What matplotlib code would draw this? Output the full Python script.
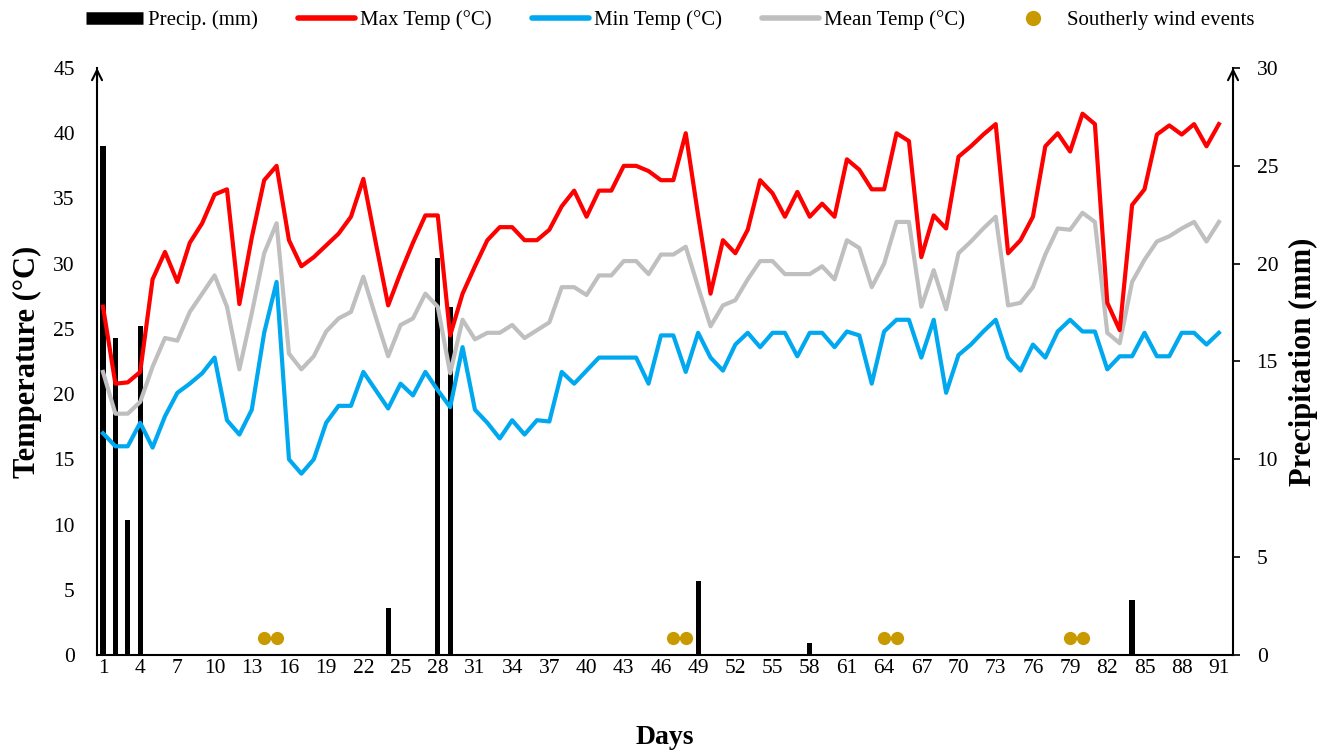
import numpy as np
import matplotlib.pyplot as plt
from matplotlib.lines import Line2D

plt.rcParams['font.family'] = ['Liberation Serif', 'DejaVu Serif']

# daily series, days 1..91
days = np.arange(1, 92)

max_temp = [26.7, 20.8, 20.9, 21.7, 28.8, 30.9, 28.6, 31.6, 33.1, 35.3,
            35.7, 26.9, 32.0, 36.4, 37.5, 31.8, 29.8, 30.5, 31.4, 32.3,
            33.6, 36.5, 31.6, 26.8, 29.3, 31.6, 33.7, 33.7, 24.5, 27.7,
            29.8, 31.8, 32.8, 32.8, 31.8, 31.8, 32.6, 34.4, 35.6, 33.6,
            35.6, 35.6, 37.5, 37.5, 37.1, 36.4, 36.4, 40.0, 33.7, 27.7,
            31.8, 30.8, 32.6, 36.4, 35.4, 33.6, 35.5, 33.6, 34.6, 33.6,
            38.0, 37.2, 35.7, 35.7, 40.0, 39.4, 30.5, 33.7, 32.7, 38.2,
            39.0, 39.9, 40.7, 30.8, 31.8, 33.6, 39.0, 40.0, 38.6, 41.5,
            40.7, 27.0, 24.9, 34.5, 35.7, 39.9, 40.6, 39.9, 40.7, 39.0,
            40.7]

mean_temp = [21.7, 18.5, 18.5, 19.4, 22.1, 24.3, 24.1, 26.3, 27.7, 29.1,
             26.7, 21.9, 26.2, 30.8, 33.1, 23.1, 21.9, 22.9, 24.8, 25.8,
             26.3, 29.0, 25.9, 22.9, 25.3, 25.8, 27.7, 26.7, 21.6, 25.7,
             24.2, 24.7, 24.7, 25.3, 24.3, 24.9, 25.5, 28.2, 28.2, 27.6,
             29.1, 29.1, 30.2, 30.2, 29.2, 30.7, 30.7, 31.3, 28.2, 25.2,
             26.8, 27.2, 28.8, 30.2, 30.2, 29.2, 29.2, 29.2, 29.8, 28.8,
             31.8, 31.2, 28.2, 30.0, 33.2, 33.2, 26.7, 29.5, 26.5, 30.8,
             31.7, 32.7, 33.6, 26.8, 27.0, 28.2, 30.7, 32.7, 32.6, 33.9,
             33.2, 24.7, 23.9, 28.6, 30.3, 31.7, 32.1, 32.7, 33.2, 31.7,
             33.2]

min_temp = [17.0, 16.0, 16.0, 17.8, 15.9, 18.3, 20.1, 20.8, 21.6, 22.8,
            18.0, 16.9, 18.8, 24.7, 28.6, 15.0, 13.9, 15.0, 17.8, 19.1,
            19.1, 21.7, 20.3, 18.9, 20.8, 19.9, 21.7, 20.3, 19.0, 23.6,
            18.8, 17.8, 16.6, 18.0, 16.9, 18.0, 17.9, 21.7, 20.8, 21.8,
            22.8, 22.8, 22.8, 22.8, 20.8, 24.5, 24.5, 21.7, 24.7, 22.8,
            21.8, 23.8, 24.7, 23.6, 24.7, 24.7, 22.9, 24.7, 24.7, 23.6,
            24.8, 24.5, 20.8, 24.8, 25.7, 25.7, 22.8, 25.7, 20.1, 23.0,
            23.8, 24.8, 25.7, 22.8, 21.8, 23.8, 22.8, 24.8, 25.7, 24.8,
            24.8, 21.9, 22.9, 22.9, 24.7, 22.9, 22.9, 24.7, 24.7, 23.8,
            24.7]

# rain days only
rain_days = [1, 2, 3, 4, 24, 28, 29, 49, 58, 84]
rain_mm = [26.0, 16.2, 6.9, 16.8, 2.4, 20.3, 17.8, 3.8, 0.6, 2.8]

# southerly wind event days, drawn just above the x axis
wind_days = [14, 15, 47, 48, 64, 65, 79, 80]
wind_level = 1.3

red = '#FF0000'
blue = '#00A8F0'
grey = '#BFBFBF'
gold = '#C89A00'

fig = plt.figure(figsize=(13.22, 7.5), dpi=100)
ax = fig.add_axes([0.0734, 0.1267, 0.8593, 0.7826])
ax2 = ax.twinx()

ax2.bar(rain_days, rain_mm, width=0.42, color='black', zorder=1)

ax.plot(days, max_temp, color=red, lw=3, zorder=3)
ax.plot(days, min_temp, color=blue, lw=3, zorder=3)
ax.plot(days, mean_temp, color=grey, lw=3, zorder=2)
ax.plot(wind_days, [wind_level] * len(wind_days), 'o', color=gold,
        ms=9.5, mec='none', zorder=4, clip_on=False)

ax.set_zorder(ax2.get_zorder() + 1)
ax.patch.set_visible(False)

ax.set_xlim(0.52, 92.14)
ax.set_ylim(0, 45)
ax2.set_ylim(0, 30)
ax.set_xticks(range(1, 92, 3))
ax.set_yticks(range(0, 46, 5))
ax2.set_yticks(range(0, 31, 5))

for a in (ax, ax2):
    a.spines['top'].set_visible(False)
    for s in a.spines.values():
        s.set_linewidth(1.5)
ax.spines['right'].set_visible(False)
ax2.spines['left'].set_visible(False)
ax2.spines['bottom'].set_visible(False)

ax.tick_params(axis='x', length=0, pad=3, labelsize=15.5)
ax.tick_params(axis='y', length=0, pad=16, labelsize=15.5)
ax2.tick_params(axis='y', length=5, width=1.2, pad=12, labelsize=15.5)

# arrow heads on both vertical axes
for xf in (0, 1):
    ax.annotate('', xy=(xf, 1.005), xytext=(xf, 0.97),
                xycoords='axes fraction',
                arrowprops=dict(arrowstyle='->', lw=1.5, color='black',
                                mutation_scale=18))

ax.set_ylabel('Temperature (°C)', fontsize=22, fontweight='bold', labelpad=8)
ax2.set_ylabel('Precipitation (mm)', fontsize=22, fontweight='bold', labelpad=8)
ax.set_xlabel('Days', fontsize=20, fontweight='bold', labelpad=34)

handles = [
    Line2D([], [], color='black', lw=9, solid_capstyle='butt'),
    Line2D([], [], color=red, lw=4, solid_capstyle='round'),
    Line2D([], [], color=blue, lw=4, solid_capstyle='round'),
    Line2D([], [], color=grey, lw=4, solid_capstyle='round'),
    Line2D([], [], color=gold, ls='none', marker='o', ms=11, mec='none'),
]
labels = ['Precip. (mm)', 'Max Temp (°C)', 'Min Temp (°C)',
          'Mean Temp (°C)', 'Southerly wind events']
fig.legend(handles, labels, loc='center', bbox_to_anchor=(0.507, 0.973),
           ncol=5, frameon=False, fontsize=15, handlelength=2.75,
           handletextpad=0.25, columnspacing=1.9)

fig.savefig('out.png', dpi=100)
